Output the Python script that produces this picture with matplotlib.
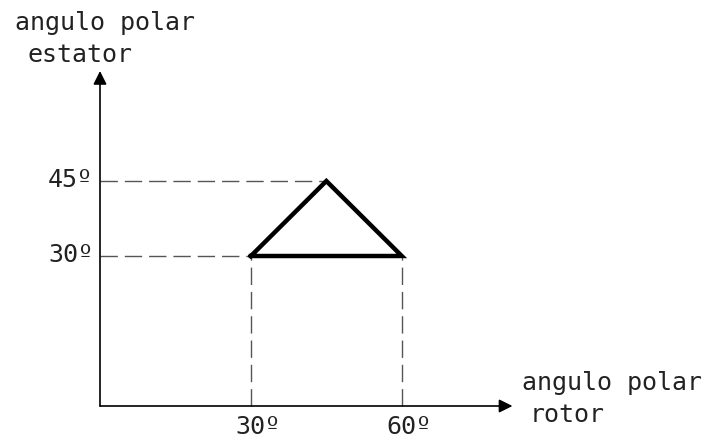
import matplotlib
matplotlib.use('Agg')
import matplotlib.pyplot as plt

# triangle vertices (rotor angle, stator angle), degrees
rotor = [30, 45, 60, 30]
estator = [30, 45, 30, 30]

# marked values on each axis
x_ticks = [30, 60]
y_ticks = [30, 45]
x_labels = ['30º', '60º']
y_labels = ['30º', '45º']

x_title = ['angulo polar', 'rotor']
y_title = ['angulo polar', 'estator']

PX = 5.03  # px per degree, x
PY = 5.0   # px per degree, y

fig = plt.figure(figsize=(7.11, 4.41), dpi=100)
ax = fig.add_axes([0, 0, 1, 1])
# origin lands at pixel (100, 406)
ax.set_xlim(-100 / PX, 611 / PX)
ax.set_ylim(-35 / PY, 406 / PY)
ax.axis('off')

font = dict(family='DejaVu Sans Mono', fontsize=18, color='#222222')

# axes with arrow heads
ax.annotate('', xy=(82.0, 0), xytext=(0, 0),
            arrowprops=dict(arrowstyle='-|>', color='black', lw=1.2,
                            mutation_scale=20, shrinkA=0, shrinkB=0))
ax.annotate('', xy=(0, 67.0), xytext=(0, 0),
            arrowprops=dict(arrowstyle='-|>', color='black', lw=1.2,
                            mutation_scale=20, shrinkA=0, shrinkB=0))

# dashed guide lines
dash = dict(color='#555555', lw=1.0, dashes=(12.5, 5))
for yv in y_ticks:
    ax.plot([0, yv], [yv, yv], **dash)
for xv in x_ticks:
    ax.plot([xv, xv], [0, 30], **dash)

# the triangle
ax.plot(rotor, estator, color='black', lw=3.2, solid_joinstyle='miter')

# tick labels
for xv, lab in zip(x_ticks, x_labels):
    ax.text(xv - 3.0, -28 / PY, lab, ha='left', va='baseline', **font)
for yv, lab in zip(y_ticks, y_labels):
    ax.text(-52 / PX, yv - 6 / PY, lab, ha='left', va='baseline', **font)

# axis titles
ax.text(422 / PX, 16 / PY, x_title[0], ha='left', va='baseline', **font)
ax.text(430 / PX, -16 / PY, x_title[1], ha='left', va='baseline', **font)
ax.text(-85 / PX, 376 / PY, y_title[0], ha='left', va='baseline', **font)
ax.text(-73 / PX, 344 / PY, y_title[1], ha='left', va='baseline', **font)

fig.savefig('out.png', dpi=100)
